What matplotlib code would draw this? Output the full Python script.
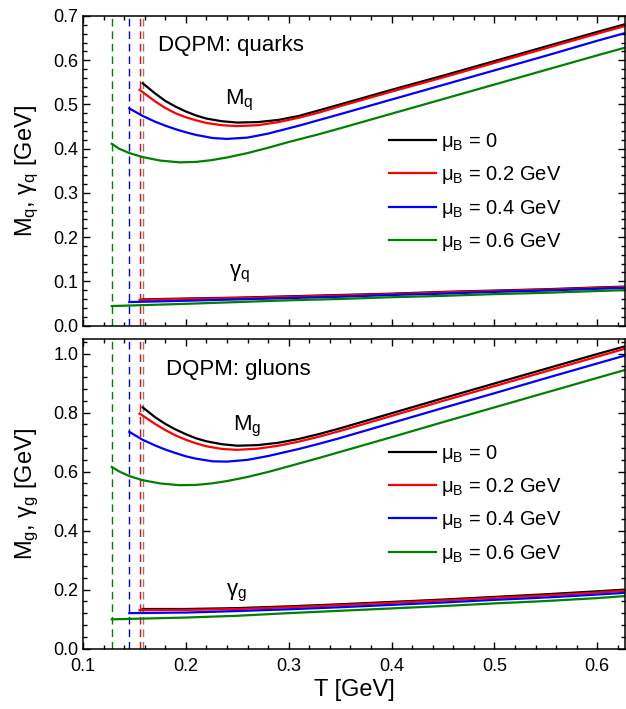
import matplotlib
matplotlib.use('Agg')
import matplotlib.pyplot as plt
from matplotlib.ticker import MultipleLocator

plt.rcParams['font.family'] = ['Liberation Sans', 'DejaVu Sans']
plt.rcParams['mathtext.fontset'] = 'custom'
plt.rcParams['mathtext.rm'] = 'Liberation Sans'
plt.rcParams['mathtext.it'] = 'Liberation Sans'
plt.rcParams['mathtext.default'] = 'regular'

# baryon chemical potentials and critical temperatures
mu_labels = ['0', '0.2 GeV', '0.4 GeV', '0.6 GeV']
colors = ['black', 'red', 'blue', 'green']
Tc = [0.158, 0.155, 0.145, 0.128]
tc_colors = ['gray', 'red', 'blue', 'green']

# temperature grids (GeV), one per mu_B
T_0 = [0.158, 0.17, 0.18, 0.19, 0.20, 0.21, 0.22, 0.235, 0.25, 0.27,
       0.29, 0.31, 0.33, 0.35, 0.40, 0.45, 0.50, 0.55, 0.60, 0.628]
T_2 = [0.155, 0.17, 0.18, 0.19, 0.20, 0.21, 0.22, 0.235, 0.25, 0.27,
       0.29, 0.31, 0.33, 0.35, 0.40, 0.45, 0.50, 0.55, 0.60, 0.628]
T_4 = [0.145, 0.158, 0.17, 0.18, 0.19, 0.20, 0.21, 0.226, 0.24, 0.26,
       0.28, 0.31, 0.33, 0.35, 0.40, 0.45, 0.50, 0.55, 0.60, 0.628]
T_6 = [0.128, 0.135, 0.145, 0.158, 0.175, 0.194, 0.21, 0.225, 0.24, 0.26,
       0.28, 0.30, 0.33, 0.35, 0.40, 0.45, 0.50, 0.55, 0.60, 0.628]

# quark pole masses M_q
Mq_0 = [0.548, 0.525, 0.508, 0.495, 0.484, 0.475, 0.468, 0.462, 0.459, 0.460,
        0.465, 0.474, 0.487, 0.500, 0.533, 0.565, 0.598, 0.631, 0.664, 0.682]
Mq_2 = [0.533, 0.507, 0.492, 0.480, 0.471, 0.464, 0.458, 0.453, 0.451, 0.453,
        0.460, 0.470, 0.482, 0.496, 0.529, 0.561, 0.594, 0.627, 0.660, 0.678]
Mq_4 = [0.491, 0.474, 0.461, 0.452, 0.444, 0.437, 0.431, 0.424, 0.422, 0.425,
        0.434, 0.452, 0.465, 0.478, 0.511, 0.544, 0.577, 0.610, 0.644, 0.662]
Mq_6 = [0.411, 0.400, 0.390, 0.381, 0.373, 0.369, 0.370, 0.374, 0.380, 0.390,
        0.402, 0.415, 0.433, 0.446, 0.479, 0.512, 0.545, 0.578, 0.611, 0.629]

# gluon pole masses M_g
Mg_0 = [0.818, 0.785, 0.762, 0.743, 0.727, 0.713, 0.703, 0.693, 0.688, 0.690,
        0.698, 0.711, 0.728, 0.747, 0.798, 0.849, 0.899, 0.949, 0.999, 1.026]
Mg_2 = [0.797, 0.762, 0.741, 0.723, 0.708, 0.696, 0.686, 0.677, 0.674, 0.678,
        0.688, 0.702, 0.719, 0.738, 0.789, 0.840, 0.890, 0.940, 0.990, 1.018]
Mg_4 = [0.735, 0.708, 0.689, 0.675, 0.663, 0.652, 0.644, 0.635, 0.634, 0.640,
        0.653, 0.677, 0.695, 0.714, 0.765, 0.816, 0.866, 0.917, 0.967, 0.995]
Mg_6 = [0.616, 0.601, 0.585, 0.571, 0.560, 0.554, 0.555, 0.560, 0.568, 0.582,
        0.599, 0.618, 0.647, 0.667, 0.717, 0.768, 0.818, 0.868, 0.918, 0.946]

# widths: coarser temperature grids
Tw_0 = [0.158, 0.20, 0.25, 0.30, 0.35, 0.40, 0.45, 0.50, 0.55, 0.60, 0.628]
Tw_2 = [0.155, 0.20, 0.25, 0.30, 0.35, 0.40, 0.45, 0.50, 0.55, 0.60, 0.628]
Tw_4 = [0.145, 0.20, 0.25, 0.30, 0.35, 0.40, 0.45, 0.50, 0.55, 0.60, 0.628]
Tw_6 = [0.128, 0.20, 0.25, 0.30, 0.35, 0.40, 0.45, 0.50, 0.55, 0.60, 0.628]

gq_0 = [0.059, 0.061, 0.063, 0.066, 0.069, 0.072, 0.076, 0.079, 0.082, 0.086, 0.088]
gq_2 = [0.058, 0.060, 0.062, 0.065, 0.068, 0.071, 0.075, 0.078, 0.081, 0.085, 0.087]
gq_4 = [0.053, 0.056, 0.059, 0.062, 0.065, 0.069, 0.072, 0.076, 0.079, 0.083, 0.085]
gq_6 = [0.044, 0.049, 0.053, 0.057, 0.060, 0.064, 0.067, 0.071, 0.074, 0.078, 0.080]

gg_0 = [0.134, 0.134, 0.137, 0.143, 0.150, 0.158, 0.166, 0.175, 0.184, 0.194, 0.200]
gg_2 = [0.130, 0.131, 0.134, 0.140, 0.147, 0.155, 0.163, 0.172, 0.180, 0.190, 0.196]
gg_4 = [0.120, 0.122, 0.127, 0.133, 0.140, 0.148, 0.156, 0.165, 0.173, 0.183, 0.189]
gg_6 = [0.099, 0.105, 0.111, 0.120, 0.128, 0.136, 0.144, 0.153, 0.161, 0.171, 0.178]

T_grids = [T_0, T_2, T_4, T_6]
Tw_grids = [Tw_0, Tw_2, Tw_4, Tw_6]

fig = plt.figure(figsize=(6.26, 7.09), dpi=100)
ax1 = fig.add_axes([83 / 626, 1 - 325.5 / 709, 542 / 626, 309.5 / 709])
ax2 = fig.add_axes([83 / 626, 1 - 648.5 / 709, 542 / 626, 309.5 / 709])

panels = [
    (ax1, [Mq_0, Mq_2, Mq_4, Mq_6], [gq_0, gq_2, gq_4, gq_6], 0.7, 0.431),
    (ax2, [Mg_0, Mg_2, Mg_4, Mg_6], [gg_0, gg_2, gg_4, gg_6], 1.05, 0.468),
]

for ax, masses, widths, ymax, leg_y in panels:
    for tc, c in zip(Tc, tc_colors):
        ax.axvline(tc, color=c, lw=1.0, linestyle=(0, (5.5, 3.5)))
    for T, M, c, lab in zip(T_grids, masses, colors, mu_labels):
        ax.plot(T, M, color=c, lw=1.6, label=r'$\mu_B$ = ' + lab)
    for T, g, c in zip(Tw_grids, widths, colors):
        ax.plot(T, g, color=c, lw=1.6)
    ax.set_xlim(0.1, 0.627)
    ax.set_ylim(0, ymax)
    ax.xaxis.set_major_locator(MultipleLocator(0.1))
    ax.xaxis.set_minor_locator(MultipleLocator(0.02))
    ax.tick_params(which='both', direction='in', top=True, right=True,
                   labelsize=13, width=1.0)
    ax.tick_params(which='major', length=5)
    ax.tick_params(which='minor', length=2.8)
    ax.tick_params(axis='x', pad=7)
    for sp in ax.spines.values():
        sp.set_linewidth(1.1)
    ax.legend(loc='center left', bbox_to_anchor=(0.564, leg_y),
              frameon=False, fontsize=14.5, handlelength=2.35, handletextpad=0.25,
              labelspacing=0.56, borderpad=0, borderaxespad=0)

ax1.yaxis.set_major_locator(MultipleLocator(0.1))
ax1.yaxis.set_minor_locator(MultipleLocator(0.02))
ax1.tick_params(labelbottom=False)
ax2.yaxis.set_major_locator(MultipleLocator(0.2))
ax2.yaxis.set_minor_locator(MultipleLocator(0.04))

ax1.set_ylabel(r'$M_q$, $\gamma_q$ [GeV]', fontsize=17, labelpad=9)
ax2.set_ylabel(r'$M_g$, $\gamma_g$ [GeV]', fontsize=17, labelpad=9)
ax2.set_xlabel('T [GeV]', fontsize=17, labelpad=3)

ax1.text(0.139, 0.888, 'DQPM: quarks', transform=ax1.transAxes, fontsize=16)
ax2.text(0.154, 0.884, 'DQPM: gluons', transform=ax2.transAxes, fontsize=16)

ax1.text(0.2385, 0.501, r'$M_q$', fontsize=16)
ax1.text(0.2424, 0.110, r'$\gamma_q$', fontsize=16)
ax2.text(0.2456, 0.741, r'$M_g$', fontsize=16)
ax2.text(0.2395, 0.181, r'$\gamma_g$', fontsize=16)

fig.savefig('out.png', dpi=100)
